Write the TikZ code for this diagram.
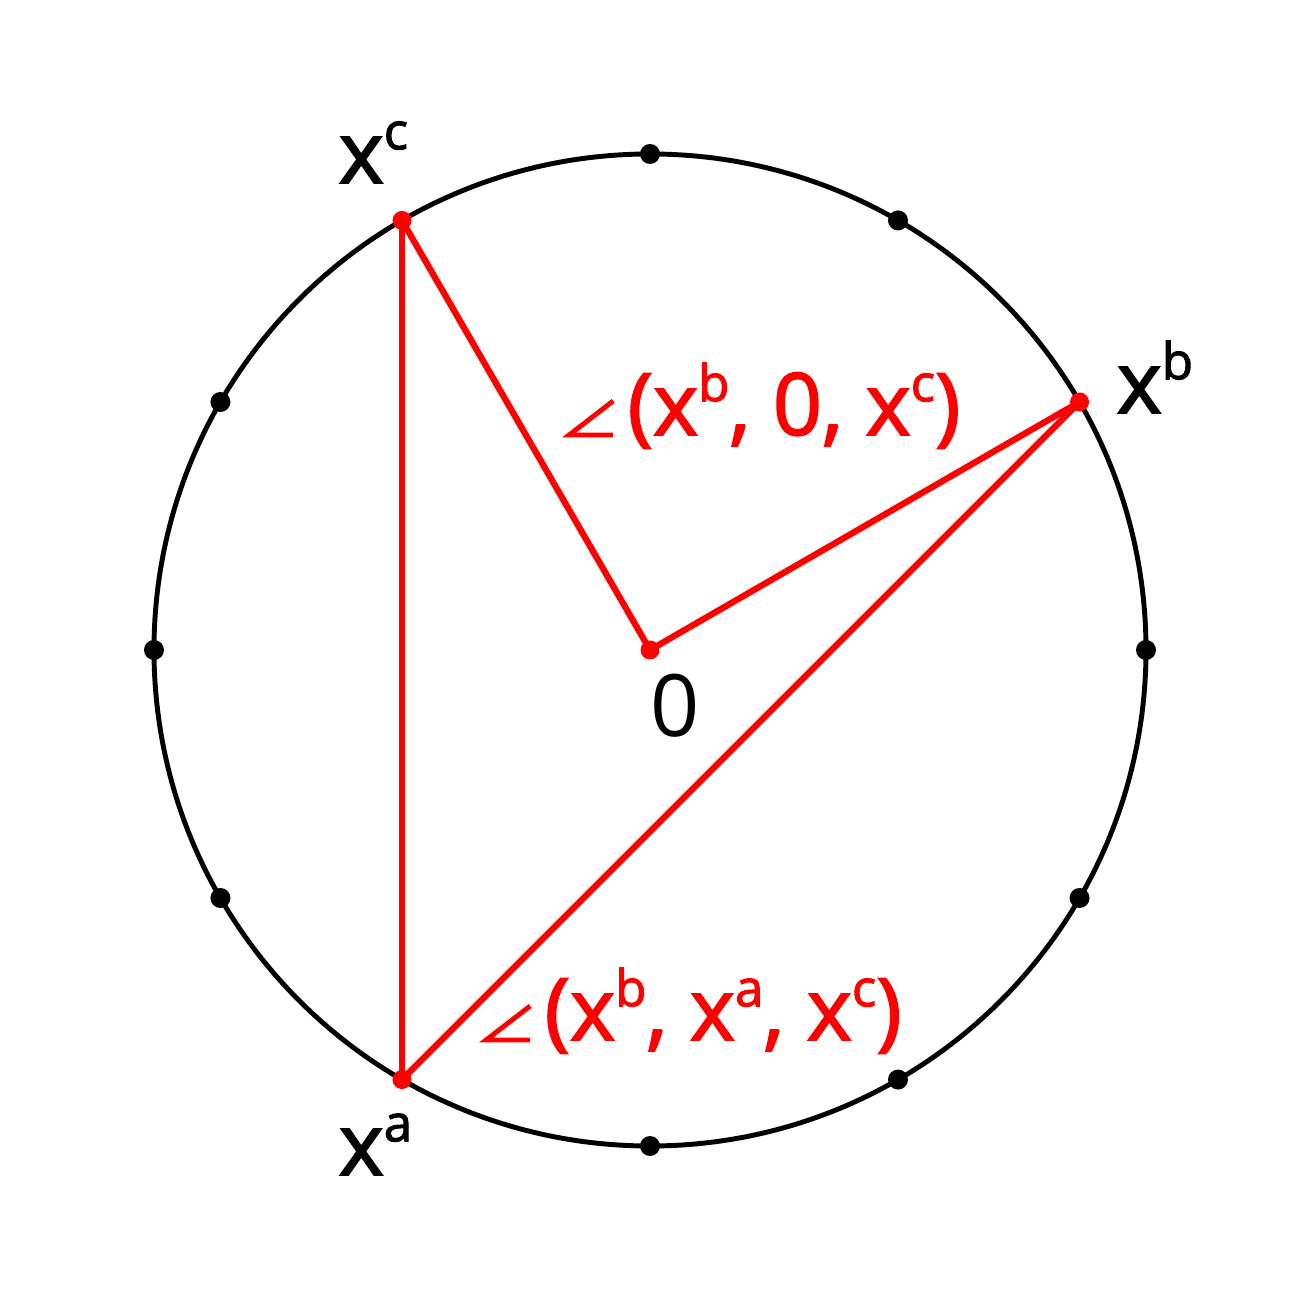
\documentclass[tikz,border=0pt]{standalone}
\usepackage{fontspec}
\setmainfont{Open Sans}
\newfontfamily\boldish[FakeBold=2]{Open Sans}
\newcommand{\xpt}[1]{x\raisebox{9.6pt}{\fontsize{14.5}{14.5}\selectfont #1}}
\newcommand{\angsym}{\tikz[baseline=0pt]\draw[line width=1.4pt, line join=miter]
    (0.44,0.34) -- (0,0) -- (0.44,0);\hspace{0.12cm}}

\begin{document}
\begin{tikzpicture}[
    rim/.style={draw=black, line width=1.4pt},
    tickdot/.style={circle, fill=black, inner sep=0pt, minimum size=2mm},
    reddot/.style={circle, fill=red, inner sep=0pt, minimum size=1.9mm},
    chord/.style={red, line width=1.8pt, line cap=round},
    lbl/.style={font=\fontsize{24.5}{28}\selectfont\boldish, inner sep=0pt, anchor=base west}
]
    \useasboundingbox (-6.5,-6.5) rectangle (6.5,6.5);
    \draw[rim] (0,0) circle (4.96);

    % marks on the circle
    \foreach \a in {0,60,90,150,180,210,270,300,330}
        \node[tickdot] (m\a) at (\a:4.96) {};

    \coordinate (O) at (0,0);
    \coordinate (xa) at (240:4.96);
    \coordinate (xb) at (30:4.96);
    \coordinate (xc) at (120:4.96);

    \draw[chord] (xc) -- (O);
    \draw[chord] (O) -- (xb);
    \draw[chord] (xb) -- (xa);
    \draw[chord] (xa) -- (xc);

    \node[reddot] (dO) at (O) {};
    \node[reddot] (da) at (xa) {};
    \node[reddot] (db) at (xb) {};
    \node[reddot] (dc) at (xc) {};

    % labels
    \node[lbl] (Lc) at (-3.12,4.67) {\xpt{c}};
    \node[lbl] (Lb) at (4.66,2.37) {\xpt{b}};
    \node[lbl] (La) at (-3.12,-5.25) {\xpt{a}};
    \node[lbl, font=\fontsize{24.5}{28}\selectfont, anchor=base] (L0) at (0.25,-0.87) {0};
    \node[lbl, red] (A1) at (-0.84,2.15) {\angsym(\xpt{b}, 0, \xpt{c})};
    \node[lbl, red] (A2) at (-1.67,-3.90) {\angsym(\xpt{b}, \xpt{a}, \xpt{c})};
\end{tikzpicture}
\end{document}
